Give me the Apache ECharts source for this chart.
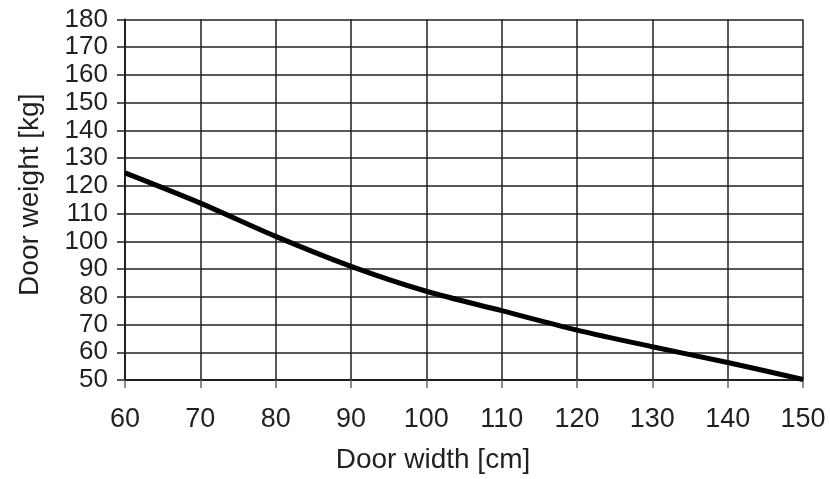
<!DOCTYPE html>
<html>
<head>
<meta charset="utf-8">
<script src="https://cdn.jsdelivr.net/npm/echarts@6/dist/echarts.min.js"></script>
<style>html,body{margin:0;padding:0;background:#fff;}#c{width:830px;height:479px;}</style>
</head>
<body>
<div id="c"></div>
<script>
var doorWidth = [60, 70, 80, 90, 100, 110, 120, 130, 140, 150];
var doorWeight = [124.7, 113.8, 101.8, 91.0, 82.0, 75.0, 68.0, 62.0, 56.3, 50.2];
var xTitle = 'Door width [cm]';
var yTitle = 'Door weight [kg]';

var chart = echarts.init(document.getElementById('c'), null, {renderer: 'canvas'});
var font = 'Liberation Sans, Arial, Helvetica, sans-serif';
var ink = '#231f20';
chart.setOption({
  animation: false,
  grid: {left: 125, right: 27, top: 19.5, bottom: 98, containLabel: false},
  xAxis: {
    type: 'value', min: 60, max: 150, interval: 10,
    name: xTitle, nameLocation: 'middle', nameGap: 66,
    nameTextStyle: {fontFamily: font, fontSize: 28, color: ink, padding: [0, 62, 0, 0]},
    axisLine: {show: true, lineStyle: {color: ink, width: 2}},
    axisTick: {show: true, length: 8, lineStyle: {color: '#666', width: 1.5}},
    axisLabel: {fontFamily: font, fontSize: 27, color: ink, margin: 26},
    splitLine: {show: true, lineStyle: {color: ink, width: 1.5}}
  },
  yAxis: {
    type: 'value', min: 50, max: 180, interval: 10,
    name: yTitle, nameLocation: 'middle', nameGap: 81,
    nameTextStyle: {fontFamily: font, fontSize: 28, color: ink, padding: [0, 0, 0, 10]},
    axisLine: {show: true, lineStyle: {color: ink, width: 2}},
    axisTick: {show: true, length: 8, lineStyle: {color: ink, width: 1.5}},
    axisLabel: {fontFamily: font, fontSize: 26, color: ink, margin: 17},
    splitLine: {show: true, lineStyle: {color: ink, width: 1.5}}
  },
  series: [{
    type: 'line',
    data: doorWidth.map(function (x, i) { return [x, doorWeight[i]]; }),
    smooth: 0.3,
    showSymbol: false,
    lineStyle: {color: '#000', width: 5},
    clip: false
  }]
});
</script>
</body>
</html>
